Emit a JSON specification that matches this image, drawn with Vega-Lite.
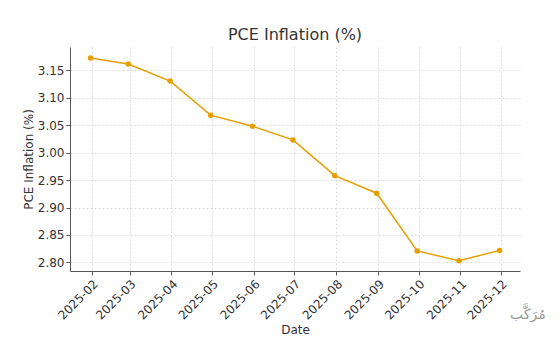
{
  "$schema": "https://vega.github.io/schema/vega-lite/v6.json",
  "autosize": "none",
  "width": 450,
  "height": 224,
  "padding": {"left": 70, "top": 47, "right": 40, "bottom": 74},
  "background": "white",
  "config": {
    "font": "DejaVu Sans",
    "view": {"stroke": null},
    "axis": {
      "labelFont": "DejaVu Sans",
      "titleFont": "DejaVu Sans",
      "labelFontSize": 12,
      "titleFontSize": 12,
      "labelColor": "#333333",
      "titleColor": "#333333",
      "titleFontWeight": "normal",
      "domainColor": "#555555",
      "tickColor": "#555555",
      "tickSize": 4,
      "gridColor": "#d4d4d4",
      "gridDash": [2, 2],
      "gridWidth": 0.8,
      "labelOverlap": false,
      "labelFlush": false
    }
  },
  "title": {
    "text": "PCE Inflation (%)",
    "fontSize": 16,
    "font": "DejaVu Sans",
    "fontWeight": "normal",
    "color": "#333333",
    "anchor": "middle",
    "offset": 4
  },
  "data": {
    "values": [
      {"date": "2025-01-31", "value": 3.172},
      {"date": "2025-02-28", "value": 3.161},
      {"date": "2025-03-31", "value": 3.130},
      {"date": "2025-04-30", "value": 3.068},
      {"date": "2025-05-31", "value": 3.048},
      {"date": "2025-06-30", "value": 3.023},
      {"date": "2025-07-31", "value": 2.958},
      {"date": "2025-08-31", "value": 2.926},
      {"date": "2025-09-30", "value": 2.821},
      {"date": "2025-10-31", "value": 2.803},
      {"date": "2025-11-30", "value": 2.822}
    ]
  },
  "layer": [
    {
      "mark": {"type": "line", "color": "#E69F00", "strokeWidth": 1.5, "point": {"filled": true, "size": 30, "color": "#E69F00"}},
      "encoding": {
        "x": {
          "field": "date",
          "type": "temporal",
          "title": "Date",
          "scale": {"domain": ["2025-01-15T20:00:00", "2025-12-15T04:00:00"]},
          "axis": {
            "values": ["2025-02-01T00:00:00", "2025-03-01T00:00:00", "2025-04-01T00:00:00", "2025-05-01T00:00:00", "2025-06-01T00:00:00", "2025-07-01T00:00:00", "2025-08-01T00:00:00", "2025-09-01T00:00:00", "2025-10-01T00:00:00", "2025-11-01T00:00:00", "2025-12-01T00:00:00"],
            "tickCount": 20,
            "format": "%Y-%m",
            "labelAngle": -45,
            "labelAlign": "right",
            "labelBaseline": "top",
            "labelPadding": 3,
            "titlePadding": 3
          }
        },
        "y": {
          "field": "value",
          "type": "quantitative",
          "title": "PCE Inflation (%)",
          "scale": {"domain": [2.7845, 3.192], "zero": false, "nice": false},
          "axis": {
            "values": [2.80, 2.85, 2.90, 2.95, 3.00, 3.05, 3.10, 3.15],
            "tickCount": 20,
            "format": ".2f",
            "titlePadding": 2
          }
        }
      }
    },
    {
      "data": {"values": [{"wm": "مُرَكَّب"}]},
      "mark": {"type": "text", "font": "DejaVu Sans", "fontSize": 14, "color": "#999999", "clip": false, "align": "center", "baseline": "middle"},
      "encoding": {
        "text": {"field": "wm"},
        "x": {"datum": {"year": 2025, "month": 12, "date": 21}, "type": "temporal"},
        "y": {"datum": 2.704}
      }
    }
  ]
}
